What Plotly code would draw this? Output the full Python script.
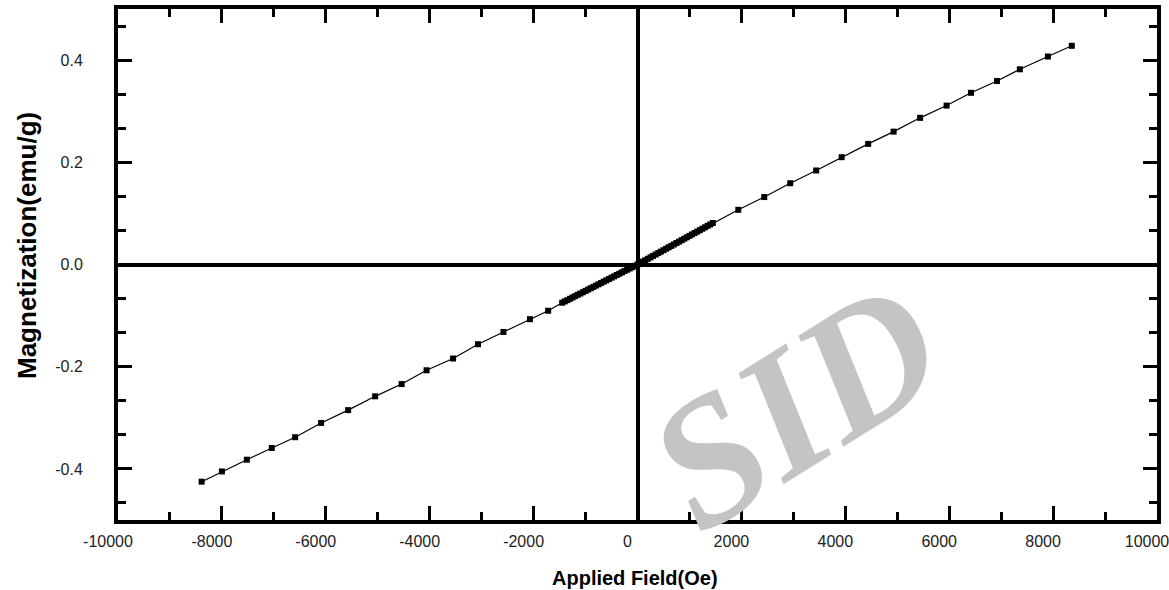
import plotly.graph_objects as go

# Applied field (Oe) and magnetization (emu/g)
field_neg_outer = [-8390, -8000, -7520, -7040, -6590, -6090, -5570, -5050,
                   -4540, -4060, -3550, -3070, -2580, -2070, -1720]
mag_neg_outer = [-0.425, -0.405, -0.382, -0.359, -0.338, -0.310, -0.285, -0.258,
                 -0.234, -0.207, -0.184, -0.156, -0.132, -0.107, -0.0905]

field_inner = [-1450, -1400, -1350, -1300, -1250, -1200, -1150, -1100, -1050, -1000,
               -950, -900, -850, -800, -750, -700, -650, -600, -550, -500,
               -450, -400, -350, -300, -250, -200, -150, -100, -50, 0,
               50, 100, 150, 200, 250, 300, 350, 400, 450, 500,
               550, 600, 650, 700, 750, 800, 850, 900, 950, 1000,
               1050, 1100, 1150, 1200, 1250, 1300, 1350, 1400, 1450]
mag_inner = [-0.0748, -0.0722, -0.0697, -0.0671, -0.0645, -0.0619, -0.0593, -0.0568, -0.0542, -0.0516,
             -0.0490, -0.0464, -0.0439, -0.0413, -0.0387, -0.0361, -0.0335, -0.0310, -0.0284, -0.0258,
             -0.0232, -0.0206, -0.0181, -0.0155, -0.0129, -0.0103, -0.0077, -0.0052, -0.0026, 0.0,
             0.0028, 0.0056, 0.0084, 0.0112, 0.0140, 0.0168, 0.0196, 0.0224, 0.0252, 0.0280,
             0.0308, 0.0336, 0.0364, 0.0392, 0.0420, 0.0448, 0.0476, 0.0504, 0.0532, 0.0560,
             0.0588, 0.0616, 0.0644, 0.0672, 0.0700, 0.0728, 0.0756, 0.0784, 0.0812]

field_pos_outer = [1940, 2440, 2940, 3440, 3930, 4440, 4930, 5440, 5950, 6420,
                   6920, 7360, 7900, 8360]
mag_pos_outer = [0.107, 0.132, 0.159, 0.184, 0.210, 0.236, 0.260, 0.287, 0.311, 0.336,
                 0.359, 0.382, 0.407, 0.428]

field = field_neg_outer + field_inner + field_pos_outer
magnetization = mag_neg_outer + mag_inner + mag_pos_outer

x_ticks = [-10000, -8000, -6000, -4000, -2000, 0, 2000, 4000, 6000, 8000, 10000]
y_ticks = [-0.4, -0.2, 0.0, 0.2, 0.4]

FONT = "Liberation Sans, Arial"

fig = go.Figure()
fig.add_trace(go.Scatter(
    x=field, y=magnetization, mode="lines+markers",
    line=dict(color="black", width=1.2),
    marker=dict(symbol="square", size=6, color="black"),
    showlegend=False,
))

axis_common = dict(
    showline=True, linecolor="black", linewidth=4, mirror="ticks",
    ticks="inside", ticklen=14, tickwidth=3, tickcolor="black",
    showgrid=False, zeroline=True, zerolinecolor="black", zerolinewidth=3.5,
    tickfont=dict(family=FONT, size=16, color="#222222"),
    ticklabeloverflow="allow", automargin=False,
)

fig.update_xaxes(
    range=[-10000, 10000], tickvals=x_ticks, ticktext=[str(v) for v in x_ticks],
    minor=dict(dtick=1000, ticks="inside", ticklen=8, tickwidth=3, tickcolor="black"),
    ticklabelshift=-10, ticklabelstandoff=4,
    **axis_common,
)
fig.update_yaxes(
    range=[-0.5, 0.5], tickvals=y_ticks, ticktext=["%.1f" % v for v in y_ticks],
    minor=dict(tick0=0, dtick=0.2 / 3, ticks="inside", ticklen=8, tickwidth=3, tickcolor="black"),
    ticklabelstandoff=28,
    **axis_common,
)

# watermark (drawn first so the titles sit on top)
fig.add_annotation(
    text="SID", xref="paper", yref="paper",
    x=(795 - 118) / 1039, y=(520 - 405) / 511, xanchor="center", yanchor="middle",
    showarrow=False, textangle=-32,
    font=dict(family="Liberation Serif", size=180, color="#c4c4c4", weight="bold", style="italic"),
)

# axis titles
fig.add_annotation(
    text="<b>Applied Field(Oe)</b>", xref="paper", yref="paper",
    x=(635 - 118) / 1039, y=(520 - 578) / 511, xanchor="center", yanchor="middle",
    showarrow=False, font=dict(family=FONT, size=20, color="black"),
)
fig.add_annotation(
    text="<b>Magnetization(emu/g)</b>", xref="paper", yref="paper",
    x=(27 - 118) / 1039, y=(520 - 246) / 511, xanchor="center", yanchor="middle",
    textangle=-90, showarrow=False, font=dict(family=FONT, size=26, color="black"),
)

fig.update_layout(
    width=1169, height=590,
    margin=dict(l=118, r=12, t=9, b=70),
    plot_bgcolor="white", paper_bgcolor="white",
)

fig.write_html("out.html")
